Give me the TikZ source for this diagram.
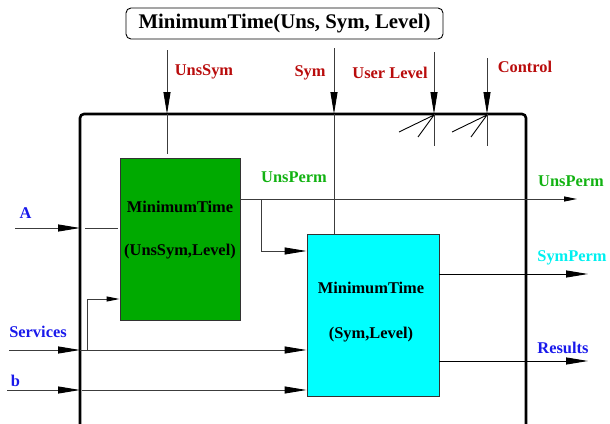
\documentclass[tikz,border=0pt]{standalone}
\usepackage{fontspec}
\setmainfont{Liberation Serif}
\usetikzlibrary{arrows.meta,calc}

\definecolor{lblred}{RGB}{185,12,12}
\definecolor{lblgreen}{RGB}{18,178,18}
\definecolor{lblblue}{RGB}{25,25,235}
\definecolor{lblcyan}{RGB}{0,240,240}
\definecolor{boxgreen}{RGB}{0,170,0}
\definecolor{boxcyan}{RGB}{0,255,255}
\definecolor{wiregray}{RGB}{60,60,60}

\tikzset{
  lbl/.style={font=\fontsize{16.4}{18}\selectfont\bfseries, inner sep=0pt},
  titlebox/.style={draw=black, line width=0.9pt, rounded corners=5pt, inner sep=0pt,
    minimum width=317pt, minimum height=31pt,
    font=\fontsize{20.8}{22}\selectfont\bfseries},
  procbox/.style={draw=black!80, line width=0.9pt, inner sep=0pt},
  wire/.style={draw=wiregray, line width=0.9pt},
  bigarrow/.style={wire, -{Triangle[length=22pt,width=7pt,color=black]}},
  midarrow/.style={wire, -{Triangle[length=13pt,width=5pt,color=black]}},
  frameline/.style={draw=black, line width=2.6pt, rounded corners=4pt},
}

\begin{document}
\begin{tikzpicture}[x=1pt,y=-1pt]
\useasboundingbox (0,0) rectangle (610,423);

% enclosing frame, open at the bottom
\draw[frameline] (80,430) -- (80,114) -- (526,114) -- (526,430);

% top title
\node[titlebox] (title) at (284.5,23.5) {MinimumTime(Uns, Sym, Level)};

% the two processing blocks
\node[procbox, fill=boxgreen, minimum width=120pt, minimum height=162pt] (green) at (180,239) {};
\node[procbox, fill=boxcyan, minimum width=132pt, minimum height=162pt] (cyan) at (373,315) {};
\node[lbl] (gtop) at (180,207) {MinimumTime};
\node[lbl] (gbot) at (180,252) {(UnsSym,Level)};
\node[lbl] (ctop) at (371,288) {MinimumTime};
\node[lbl] (cbot) at (371,335) {(Sym,Level)};

% labels
\node[lbl, text=lblred] (lUnsSym) at (204,72) {UnsSym};
\node[lbl, text=lblred] (lSym) at (310,73) {Sym};
\node[lbl, text=lblred] (lUser) at (390,73) {User Level};
\node[lbl, text=lblred] (lCtrl) at (525,67) {Control};
\node[lbl, text=lblblue] (lA) at (25.5,213) {A};
\node[lbl, text=lblblue] (lServ) at (38,332) {Services};
\node[lbl, text=lblblue] (lb) at (15.5,381) {b};
\node[lbl, text=lblgreen] (lUnsPermIn) at (294,177) {UnsPerm};
\node[lbl, text=lblgreen] (lUnsPermOut) at (571,181) {UnsPerm};
\node[lbl, text=lblcyan] (lSymPerm) at (572,258) {SymPerm};
\node[lbl, text=lblblue] (lRes) at (563,348) {Results};

% crossing points on the frame and free ends
\coordinate (unsIn) at (167,50);   \coordinate (unsF) at (167,114);
\coordinate (symIn) at (334,48);   \coordinate (symF) at (334,114);
\coordinate (usrIn) at (434,52);   \coordinate (usrF) at (434,114);
\coordinate (ctlIn) at (487,58);   \coordinate (ctlF) at (487,114);
\coordinate (usrEnd) at (434,146); \coordinate (ctlEnd) at (487,146);
\coordinate (aIn) at (15,228);     \coordinate (aF) at (80,228);
\coordinate (sIn) at (9,350);      \coordinate (sF) at (80,350);
\coordinate (bIn) at (7,390);      \coordinate (bF) at (80,390);
\coordinate (sTap) at (87,350);
\coordinate (pTap) at (261,199);
\coordinate (upOut) at (577,199);
\coordinate (spOut) at (588,274);
\coordinate (rsOut) at (588,361);

% control inputs from above
\draw[bigarrow] (unsIn) -- (unsF);
\draw[wire, shorten >=4pt] (unsF) -- (unsF |- green.north);
\draw[bigarrow] (symIn) -- (symF);
\draw[wire] (symF) -- (symF |- cyan.north);
\draw[bigarrow] (usrIn) -- (usrF);
\draw[bigarrow] (ctlIn) -- (ctlF);
\draw[wire] (usrF) -- (usrEnd);
\draw[wire] (ctlF) -- (ctlEnd);
\draw[black, line width=0.9pt] ($(usrF)+(0,1)$) -- +(-35,17) ($(usrF)+(0,1)$) -- +(-16,22);
\draw[black, line width=0.9pt] ($(ctlF)+(0,1)$) -- +(-35,17) ($(ctlF)+(0,1)$) -- +(-16,22);

% data inputs from the left
\draw[bigarrow] (aIn) -- (aF);
\draw[wire, shorten <=5pt, shorten >=2pt] (aF) -- (aF -| green.west);
\draw[bigarrow] (sIn) -- (sF);
\draw[bigarrow] (sF) -- (sF -| cyan.west);
\draw[midarrow] (sTap) |- ($(green.west)+(0,60)$);
\draw[bigarrow] (bIn) -- (bF);
\draw[bigarrow, shorten <=2pt] (bF) -- (bF -| cyan.west);

% outputs
\draw[wire] (pTap -| green.east) -- (pTap);
\draw[midarrow] (pTap) -- (upOut);
\draw[bigarrow] (pTap) |- ($(cyan.west)+(0,-64)$);
\draw[bigarrow, draw=black] (spOut -| cyan.east) -- (spOut);
\draw[bigarrow, draw=black] (rsOut -| cyan.east) -- (rsOut);
\end{tikzpicture}
\end{document}
